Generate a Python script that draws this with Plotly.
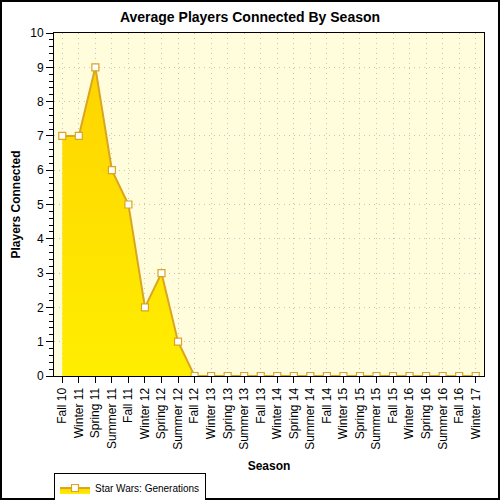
import plotly.graph_objects as go

seasons = ["Fall 10", "Winter 11", "Spring 11", "Summer 11", "Fall 11", "Winter 12",
           "Spring 12", "Summer 12", "Fall 12", "Winter 13", "Spring 13", "Summer 13",
           "Fall 13", "Winter 14", "Spring 14", "Summer 14", "Fall 14", "Winter 15",
           "Spring 15", "Summer 15", "Fall 15", "Winter 16", "Spring 16", "Summer 16",
           "Fall 16", "Winter 17"]
players = [7, 7, 9, 6, 5, 2, 3, 1, 0, 0, 0, 0, 0, 0, 0, 0, 0, 0, 0, 0, 0, 0, 0, 0, 0, 0]
series_name = "Star Wars: Generations"

W, H = 500, 500
L, R, T, B = 54, 16, 33, 124
pw, ph = W - L - R, H - T - B

font = "Liberation Sans, Arial, sans-serif"
grid = dict(showgrid=True, gridcolor="#C4C4C4", griddash="1px,4px", gridwidth=1)

fig = go.Figure()
fig.add_trace(go.Scatter(
    x=seasons, y=players,
    name=series_name,
    mode="lines+markers",
    fill="tozeroy",
    fillgradient=dict(type="vertical",
                      colorscale=[[0, "#FFEE00"], [1, "#FFD400"]]),
    line=dict(color="#DAA520", width=2),
    marker=dict(symbol="square", size=7, color="white",
                line=dict(color="#DAA520", width=1.2)),
))

fig.update_layout(
    width=W, height=H,
    margin=dict(l=L, r=R, t=T, b=B, autoexpand=False),
    paper_bgcolor="white",
    plot_bgcolor="#FFFDDC",
    title=dict(text="<b>Average Players Connected By Season</b>",
               x=0.5, xanchor="center", y=1 - 17 / H, yanchor="middle",
               font=dict(family=font, size=14, color="black")),
    font=dict(family=font, size=12, color="black"),
    showlegend=True,
    legend=dict(x=0, xanchor="left", y=-(488 - (T + ph)) / ph, yanchor="middle",
                orientation="h", bordercolor="black", borderwidth=1,
                bgcolor="white", font=dict(size=10),
                itemwidth=30, tracegroupgap=0),
    xaxis=dict(
        type="category",
        categoryorder="array", categoryarray=seasons,
        range=[-0.5, len(seasons) - 0.5],
        tickangle=-90, automargin=False,
        ticks="outside", ticklen=6, tickcolor="black",
        showline=True, linecolor="black", linewidth=1, mirror=True,
        tickfont=dict(size=12),
        title=dict(text="<b>Season</b>", font=dict(size=12), standoff=12),
        zeroline=False, **grid,
    ),
    yaxis=dict(
        range=[0, 10], dtick=1, automargin=False,
        ticks="outside", ticklen=7, tickcolor="black",
        minor=dict(dtick=0.2, ticks="outside", ticklen=4, tickcolor="black",
                   showgrid=False),
        showline=True, linecolor="black", linewidth=1, mirror=True,
        tickfont=dict(size=12),
        title=dict(text="<b>Players Connected</b>", font=dict(size=12), standoff=7),
        zeroline=False, **grid,
    ),
    xaxis2=dict(
        overlaying="x", side="top", range=[-0.5, len(seasons) - 0.5],
        tickvals=list(range(len(seasons))), showticklabels=False,
        ticks="inside", ticklen=6, tickcolor="black", showgrid=False,
        zeroline=False, automargin=False,
    ),
    yaxis2=dict(
        overlaying="y", side="right", range=[0, 10], dtick=1,
        showticklabels=False, ticks="inside", ticklen=7, tickcolor="black",
        minor=dict(dtick=0.2, ticks="inside", ticklen=4, tickcolor="black"),
        showgrid=False, zeroline=False, automargin=False,
    ),
)

# frame around the whole image
fig.add_shape(type="rect", xref="paper", yref="paper",
              x0=-(L - 1) / pw, x1=1 + (R - 1) / pw,
              y0=-(B - 1) / ph, y1=1 + (T - 1) / ph,
              line=dict(color="black", width=2), layer="above")

# drop the browser's default page margin so the figure sits at the corner
fig.write_html("out.html", config={"displayModeBar": False},
               post_script="document.body.style.margin='0px';")
